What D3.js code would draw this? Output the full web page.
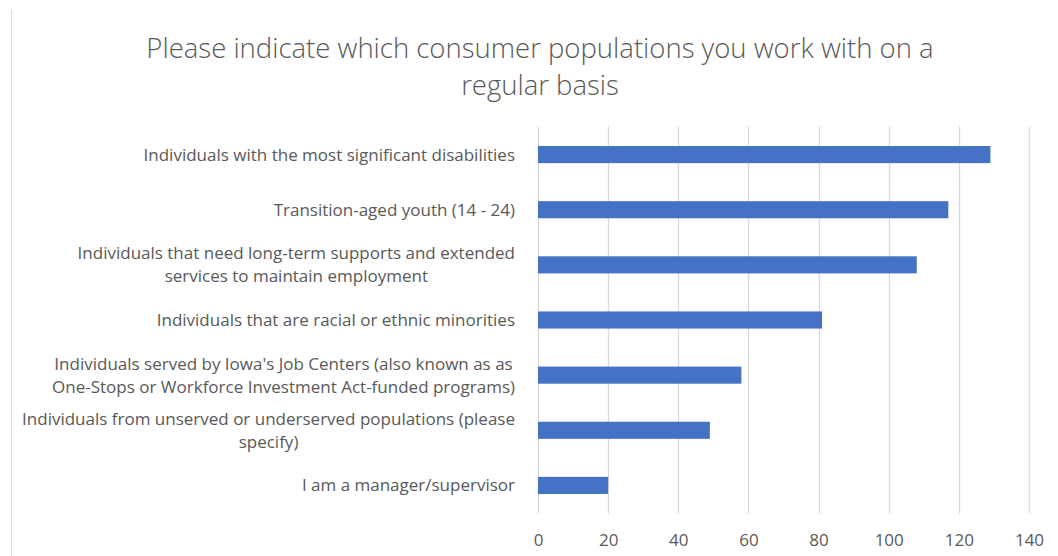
<!DOCTYPE html>
<html>
<head>
<meta charset="utf-8">
<script src="https://cdn.jsdelivr.net/npm/d3@7/dist/d3.min.js"></script>
<style>
  html, body { margin: 0; padding: 0; background: #fff; }
  svg { display: block; }
</style>
</head>
<body>
<svg id="chart" width="1058" height="556"></svg>
<script>
// Survey responses: consumer populations worked with on a regular basis
const categories = [
  ["Individuals with the most significant disabilities"],
  ["Transition-aged youth (14 - 24)"],
  ["Individuals that need long-term supports and extended", "services to maintain employment"],
  ["Individuals that are racial or ethnic minorities"],
  ["Individuals served by Iowa's Job Centers (also known as as", "One-Stops or Workforce Investment Act-funded programs)"],
  ["Individuals from unserved or underserved populations (please", "specify)"],
  ["I am a manager/supervisor"]
];
const counts = [129, 117, 108, 81, 58, 49, 20];
const xTicks = [0, 20, 40, 60, 80, 100, 120, 140];
const titleLines = ["Please indicate which consumer populations you work with on a", "regular basis"];

const W = 1058, H = 556;
const margin = { left: 538, right: 29, top: 127, bottom: 43 };
const textColor = "#595959";
const font = "'Open Sans', 'Noto Sans', sans-serif";

const svg = d3.select("#chart");

// outer chart frame (left edge)
svg.append("line")
  .attr("x1", 11.5).attr("x2", 11.5)
  .attr("y1", 10).attr("y2", H)
  .attr("stroke", "#d9d9d9").attr("stroke-width", 1);

const x = d3.scaleLinear()
  .domain([0, 140])
  .range([margin.left, W - margin.right]);

const y = d3.scaleBand()
  .domain(d3.range(categories.length))
  .range([margin.top, H - margin.bottom])
  .paddingInner(0.69)
  .paddingOuter(0.345);

// vertical gridlines
svg.append("g")
  .selectAll("line")
  .data(xTicks)
  .join("line")
  .attr("x1", d => Math.round(x(d)) + 0.5)
  .attr("x2", d => Math.round(x(d)) + 0.5)
  .attr("y1", margin.top)
  .attr("y2", H - margin.bottom)
  .attr("stroke", "#d9d9d9")
  .attr("stroke-width", 1.3);

// bars
svg.append("g")
  .selectAll("rect")
  .data(counts)
  .join("rect")
  .attr("x", x(0))
  .attr("y", (d, i) => y(i))
  .attr("width", d => x(d) - x(0))
  .attr("height", y.bandwidth())
  .attr("fill", "#4472C4");

// x axis tick labels
const xAxis = d3.axisBottom(x).tickValues(xTicks).tickSize(0).tickPadding(0);
const gx = svg.append("g")
  .attr("transform", `translate(0, ${H - margin.bottom + 27})`)
  .call(xAxis);
gx.select(".domain").remove();
gx.selectAll("text")
  .attr("fill", textColor)
  .attr("font-family", font)
  .attr("font-size", 17)
  .attr("dy", "0.35em");

// category labels: block right-aligned, wrapped lines centred within the block
const labelRight = 515;
const lineGap = 23;
const labels = svg.append("g")
  .attr("font-family", font)
  .attr("font-size", 17)
  .attr("fill", textColor);

categories.forEach((lines, i) => {
  const cy = y(i) + y.bandwidth() / 2;
  const g = labels.append("g");
  const texts = lines.map((ln, k) => g.append("text")
    .attr("text-anchor", "middle")
    .attr("dy", "0.35em")
    .attr("y", cy + (k - (lines.length - 1) / 2) * lineGap)
    .text(ln));
  const maxW = d3.max(texts, t => t.node().getComputedTextLength());
  texts.forEach(t => t.attr("x", labelRight - maxW / 2));
});

// title
svg.append("g")
  .attr("font-family", font)
  .attr("font-size", 27.5)
  .attr("font-weight", 300)
  .attr("fill", textColor)
  .selectAll("text")
  .data(titleLines)
  .join("text")
  .attr("x", 540)
  .attr("y", (d, i) => 48 + i * 37)
  .attr("dy", "0.35em")
  .attr("text-anchor", "middle")
  .text(d => d);
</script>
</body>
</html>
